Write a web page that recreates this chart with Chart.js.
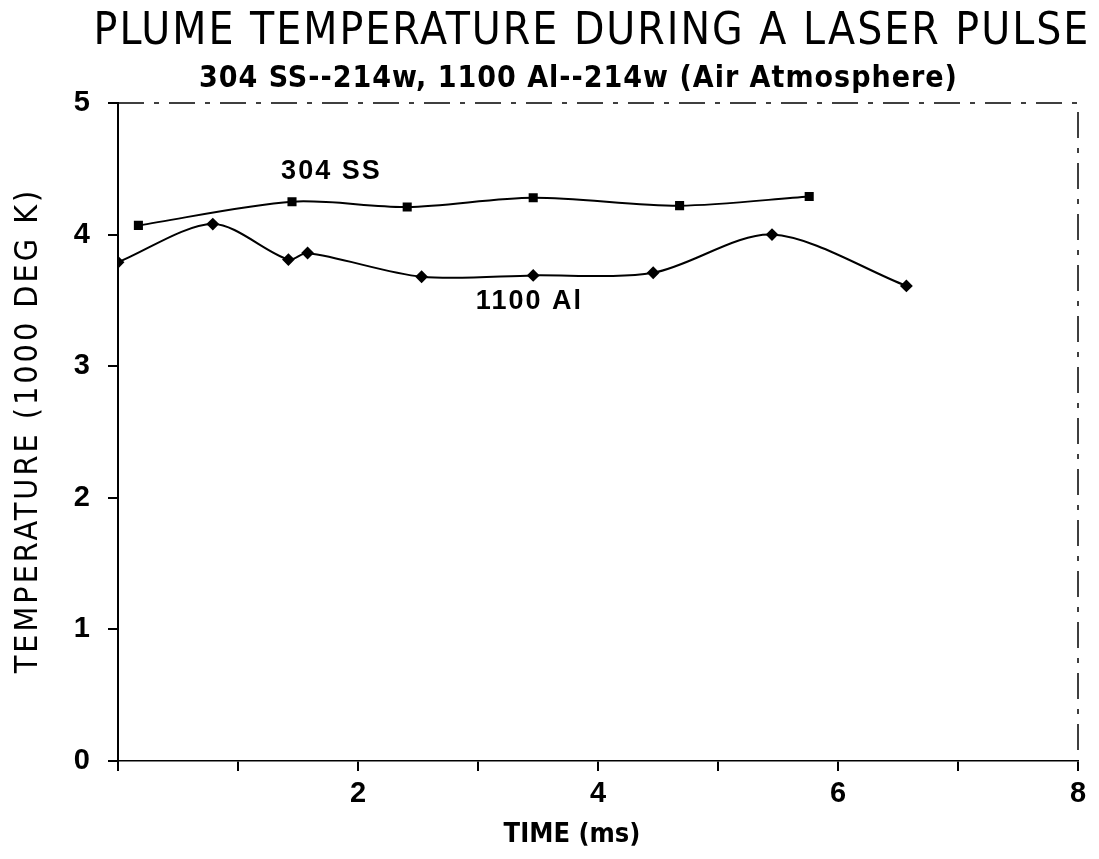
<!DOCTYPE html>
<html>
<head>
<meta charset="utf-8">
<script src="https://cdn.jsdelivr.net/npm/chart.js@4.4.0/dist/chart.umd.min.js"></script>
<style>
html,body{margin:0;padding:0;background:#fff;}
#wrap{width:1099px;height:859px;position:relative;}
</style>
</head>
<body>
<div id="wrap"><canvas id="c" width="1099" height="859"></canvas></div>
<script>
// ---- data ----
const ssTime = [0.17, 1.45, 2.41, 3.46, 4.68, 5.76];
const ssTemp = [4.07, 4.25, 4.21, 4.28, 4.22, 4.29];
const alTime = [0.0, 0.79, 1.42, 1.58, 2.53, 3.46, 4.46, 5.45, 6.57];
const alTemp = [3.79, 4.08, 3.81, 3.86, 3.68, 3.69, 3.71, 4.00, 3.61];
const xTickLabels = ['', '', '2', '', '4', '', '6', '', '8'];
const yTickLabels = ['0', '1', '2', '3', '4', '5'];
const titleText = 'PLUME TEMPERATURE DURING A LASER PULSE';
const subtitleText = '304 SS--214w, 1100 Al--214w (Air Atmosphere)';
const xTitle = 'TIME (ms)';
const yTitle = 'TEMPERATURE (1000 DEG K)';
const seriesNames = ['304 SS', '1100 Al'];

const toPts = (xs, ys) => xs.map((x, i) => ({x: x, y: ys[i]}));

function spacedText(ctx, text, x, y, spacing) {
  // centred text with extra letter spacing
  if ('letterSpacing' in ctx) {
    ctx.letterSpacing = spacing + 'px';
    const w = ctx.measureText(text).width - spacing;
    ctx.textAlign = 'left';
    ctx.fillText(text, x - w / 2, y);
    ctx.letterSpacing = '0px';
    ctx.textAlign = 'center';
  } else {
    ctx.fillText(text, x, y);
  }
}

const textPlugin = {
  id: 'textPlugin',
  afterDraw(chart) {
    const ctx = chart.ctx;
    const xs = chart.scales.x, ys = chart.scales.y;
    const a = chart.chartArea;
    ctx.save();
    ctx.fillStyle = '#000';
    ctx.textAlign = 'center';
    ctx.textBaseline = 'middle';
    // title
    ctx.font = '44px "DejaVu Sans Condensed", "DejaVu Sans", sans-serif';
    spacedText(ctx, titleText, 591, 33, 2);
    // subtitle
    ctx.font = 'bold 30px "DejaVu Sans Condensed", "DejaVu Sans", sans-serif';
    spacedText(ctx, subtitleText, 578, 79, 1);
    // x title
    ctx.font = 'bold 27px "DejaVu Sans Condensed", "DejaVu Sans", sans-serif';
    ctx.fillText(xTitle, 572, 835);
    // y title
    ctx.save();
    ctx.translate(29, 432);
    ctx.rotate(-Math.PI / 2);
    ctx.font = '32px "DejaVu Sans Condensed", "DejaVu Sans", sans-serif';
    spacedText(ctx, yTitle, 0, 0, 3);
    ctx.restore();
    // series labels
    ctx.font = 'bold 27px "Liberation Sans", Arial, sans-serif';
    spacedText(ctx, seriesNames[0], xs.getPixelForValue(1.77), ys.getPixelForValue(4.48), 2);
    spacedText(ctx, seriesNames[1], xs.getPixelForValue(3.42), ys.getPixelForValue(3.49), 2);
    // top and right frame (dashed, like the plot)
    ctx.strokeStyle = '#000';
    ctx.lineWidth = 1.5;
    ctx.setLineDash([26, 10, 5, 10]);
    ctx.beginPath();
    ctx.moveTo(a.left, a.top);
    ctx.lineTo(a.right, a.top);
    ctx.lineTo(a.right, a.bottom);
    ctx.stroke();
    ctx.restore();
  }
};

new Chart(document.getElementById('c'), {
  type: 'line',
  data: {
    datasets: [
      {
        label: seriesNames[0],
        data: toPts(ssTime, ssTemp),
        borderColor: '#000',
        backgroundColor: '#000',
        borderWidth: 2,
        pointStyle: 'rect',
        pointRadius: 5,
        tension: 0.3,
        fill: false
      },
      {
        label: seriesNames[1],
        data: toPts(alTime, alTemp),
        borderColor: '#000',
        backgroundColor: '#000',
        borderWidth: 2,
        pointStyle: 'rectRot',
        pointRadius: 5,
        tension: 0.3,
        fill: false
      }
    ]
  },
  options: {
    responsive: false,
    animation: false,
    devicePixelRatio: 1,
    layout: {padding: {top: 103, right: 21, left: 0, bottom: 0}},
    plugins: {legend: {display: false}, tooltip: {enabled: false}, title: {display: false}},
    scales: {
      x: {
        type: 'linear', min: 0, max: 8,
        afterFit(s) { s.height = 98; },
        ticks: {
          stepSize: 1, color: '#000', padding: 6,
          font: {family: '"Liberation Sans", Arial, sans-serif', size: 29, weight: 'bold'},
          callback: (v) => xTickLabels[Math.round(v)] ?? '',
          maxRotation: 0, autoSkip: false
        },
        grid: {drawOnChartArea: false, drawTicks: true, tickLength: 10, color: '#000', lineWidth: 2},
        border: {display: true, color: '#000', width: 1.5, dash: [30, 10, 5, 10]}
      },
      y: {
        type: 'linear', min: 0, max: 5,
        afterFit(s) { s.width = 118; },
        ticks: {
          stepSize: 1, color: '#000', padding: 18,
          font: {family: '"Liberation Sans", Arial, sans-serif', size: 29, weight: 'bold'},
          callback: (v) => yTickLabels[Math.round(v)] ?? ''
        },
        grid: {drawOnChartArea: false, drawTicks: true, tickLength: 10, color: '#000', lineWidth: 2},
        border: {display: true, color: '#000', width: 2}
      }
    }
  },
  plugins: [textPlugin]
});
</script>
</body>
</html>
